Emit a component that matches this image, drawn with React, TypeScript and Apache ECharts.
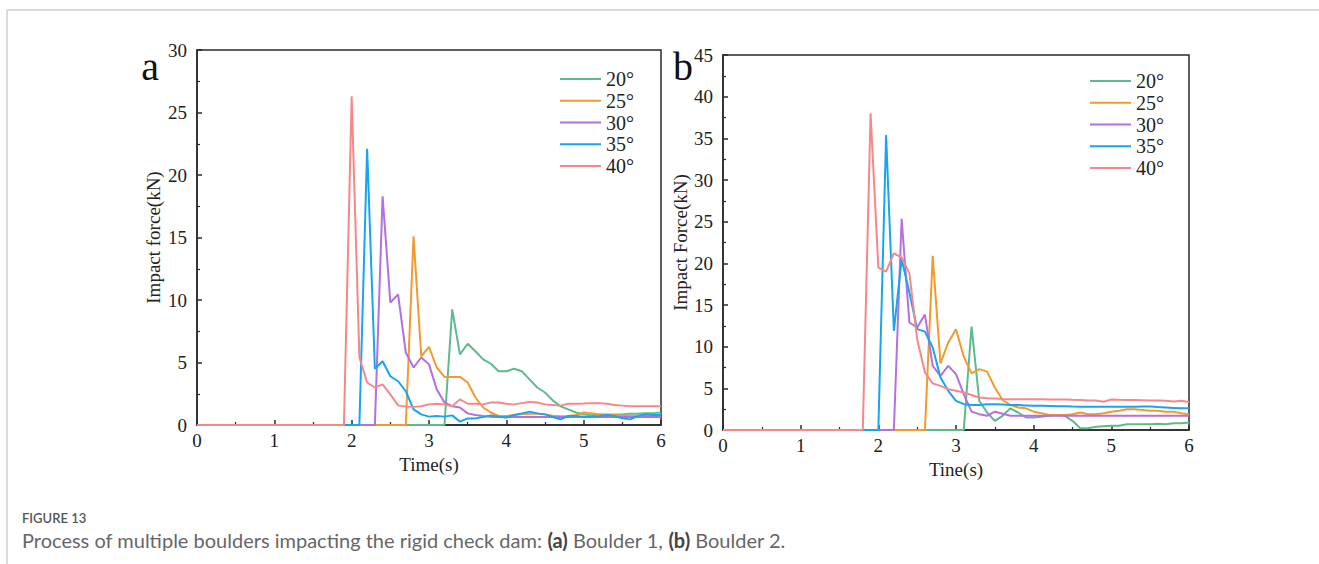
import React, { useEffect, useRef } from "react";
import * as echarts from "echarts";

const TIME = [
  0.0, 0.1, 0.2, 0.3, 0.4, 0.5, 0.6, 0.7, 0.8, 0.9,
  1.0, 1.1, 1.2, 1.3, 1.4, 1.5, 1.6, 1.7, 1.8, 1.9,
  2.0, 2.1, 2.2, 2.3, 2.4, 2.5, 2.6, 2.7, 2.8, 2.9,
  3.0, 3.1, 3.2, 3.3, 3.4, 3.5, 3.6, 3.7, 3.8, 3.9,
  4.0, 4.1, 4.2, 4.3, 4.4, 4.5, 4.6, 4.7, 4.8, 4.9,
  5.0, 5.1, 5.2, 5.3, 5.4, 5.5, 5.6, 5.7, 5.8, 5.9,
  6.0,
];

const NAMES = ["20°", "25°", "30°", "35°", "40°"];
const COLORS = ["#5dba8c", "#f29a2e", "#b46fe0", "#17a5f0", "#f58888"];

// Panel a (Boulder 1)
const A20 = [
  0, 0, 0, 0, 0, 0, 0, 0, 0, 0,
  0, 0, 0, 0, 0, 0, 0, 0, 0, 0,
  0, 0, 0, 0, 0, 0, 0, 0, 0, 0,
  0, 0, 0, 9.25, 5.65, 6.5, 5.9, 5.25, 4.9, 4.3,
  4.3, 4.5, 4.3, 3.65, 3.0, 2.6, 1.97, 1.5, 1.25, 1.0,
  0.85, 0.78, 0.85, 0.85, 0.85, 0.85, 0.9, 0.9, 0.95, 0.95,
  1.0,
];
const A25 = [
  0, 0, 0, 0, 0, 0, 0, 0, 0, 0,
  0, 0, 0, 0, 0, 0, 0, 0, 0, 0,
  0, 0, 0, 0, 0, 0, 0, 0, 15.1, 5.5,
  6.25, 4.6, 3.85, 3.85, 3.85, 3.4, 2.2, 1.4, 1.0, 0.72,
  0.72, 0.8, 0.85, 0.9, 0.9, 0.85, 0.75, 0.7, 0.72, 0.8,
  1.0, 0.95, 0.85, 0.8, 0.8, 0.75, 0.75, 0.7, 0.75, 0.8,
  0.85,
];
const A30 = [
  0, 0, 0, 0, 0, 0, 0, 0, 0, 0,
  0, 0, 0, 0, 0, 0, 0, 0, 0, 0,
  0, 0, 0, 0, 18.3, 9.8, 10.45, 5.8, 4.6, 5.4,
  4.85, 2.85, 1.8, 1.5, 1.4, 0.93, 0.8, 0.72, 0.65, 0.65,
  0.62, 0.65, 0.65, 0.65, 0.65, 0.65, 0.65, 0.65, 0.65, 0.65,
  0.65, 0.65, 0.65, 0.65, 0.65, 0.65, 0.65, 0.65, 0.65, 0.65,
  0.65,
];
const A35 = [
  0, 0, 0, 0, 0, 0, 0, 0, 0, 0,
  0, 0, 0, 0, 0, 0, 0, 0, 0, 0,
  0, 0, 22.1, 4.5, 5.1, 3.9, 3.5, 2.7, 1.25, 0.85,
  0.67, 0.72, 0.67, 0.77, 0.27, 0.53, 0.53, 0.64, 0.77, 0.67,
  0.6, 0.8, 0.93, 1.07, 0.93, 0.85, 0.64, 0.45, 0.72, 0.72,
  0.67, 0.67, 0.72, 0.8, 0.72, 0.53, 0.45, 0.72, 0.85, 0.8,
  0.8,
];
const A40 = [
  0, 0, 0, 0, 0, 0, 0, 0, 0, 0,
  0, 0, 0, 0, 0, 0, 0, 0, 0, 0,
  26.3, 5.4, 3.4, 3.0, 3.25, 2.45, 1.57, 1.47, 1.45, 1.5,
  1.65, 1.7, 1.65, 1.5, 2.05, 1.7, 1.7, 1.65, 1.8, 1.8,
  1.7, 1.65, 1.75, 1.85, 1.8, 1.65, 1.6, 1.55, 1.7, 1.7,
  1.72, 1.75, 1.75, 1.7, 1.6, 1.55, 1.5, 1.5, 1.5, 1.5,
  1.5,
];

// Panel b (Boulder 2)
const B20 = [
  0, 0, 0, 0, 0, 0, 0, 0, 0, 0,
  0, 0, 0, 0, 0, 0, 0, 0, 0, 0,
  0, 0, 0, 0, 0, 0, 0, 0, 0, 0,
  0, 0, 12.4, 3.5, 2.1, 1.1, 1.7, 2.6, 2.1, 1.5,
  1.5, 1.6, 1.7, 1.8, 1.7, 1.1, 0.2, 0.2, 0.4, 0.45,
  0.5, 0.5, 0.7, 0.7, 0.7, 0.7, 0.75, 0.7, 0.8, 0.8,
  0.9,
];
const B25 = [
  0, 0, 0, 0, 0, 0, 0, 0, 0, 0,
  0, 0, 0, 0, 0, 0, 0, 0, 0, 0,
  0, 0, 0, 0, 0, 0, 0, 20.9, 8.0, 10.5,
  12.1, 8.8, 6.8, 7.3, 7.0, 5.1, 3.6, 3.0, 2.7, 2.6,
  2.2, 2.0, 1.8, 1.8, 1.8, 1.9, 2.1, 1.9, 1.9, 2.0,
  2.2, 2.3, 2.5, 2.5, 2.4, 2.3, 2.3, 2.2, 2.2, 2.0,
  1.9,
];
const B30 = [
  0, 0, 0, 0, 0, 0, 0, 0, 0, 0,
  0, 0, 0, 0, 0, 0, 0, 0, 0, 0,
  0, 0, 0, 25.35, 12.9, 12.3, 13.85, 7.7, 6.5, 7.7,
  6.7, 4.3, 2.2, 1.9, 1.7, 2.2, 1.95, 1.7, 1.7, 1.7,
  1.7, 1.7, 1.7, 1.7, 1.7, 1.7, 1.7, 1.7, 1.7, 1.7,
  1.7, 1.7, 1.7, 1.7, 1.7, 1.7, 1.7, 1.7, 1.7, 1.7,
  1.7,
];
const B35 = [
  0, 0, 0, 0, 0, 0, 0, 0, 0, 0,
  0, 0, 0, 0, 0, 0, 0, 0, 0, 0,
  0, 35.4, 11.9, 20.5, 16.5, 12.1, 11.8, 9.9, 6.3, 4.7,
  3.5, 3.1, 3.0, 3.0, 3.1, 3.1, 3.05, 3.0, 3.0, 2.95,
  2.9, 2.9, 2.88, 2.85, 2.85, 2.82, 2.8, 2.8, 2.8, 2.8,
  2.8, 2.8, 2.8, 2.8, 2.82, 2.82, 2.75, 2.7, 2.65, 2.6,
  2.6,
];
const B40 = [
  0, 0, 0, 0, 0, 0, 0, 0, 0, 0,
  0, 0, 0, 0, 0, 0, 0, 0, 0, 38.0,
  19.5, 19.0, 21.2, 20.7, 18.8, 10.9, 6.9, 5.6, 5.3, 4.9,
  4.7, 4.5, 4.2, 3.9, 3.8, 3.77, 3.72, 3.7, 3.7, 3.7,
  3.68, 3.68, 3.66, 3.65, 3.65, 3.62, 3.6, 3.55, 3.55, 3.4,
  3.65, 3.62, 3.6, 3.6, 3.58, 3.55, 3.55, 3.5, 3.42, 3.5,
  3.35,
];

const PANEL_A = [A20, A25, A30, A35, A40];
const PANEL_B = [B20, B25, B30, B35, B40];

const X_TICKS = [0, 1, 2, 3, 4, 5, 6];

const SERIF = "Liberation Serif";
const AX = "#2a2a2a";

function makeX(gridIndex: number, name: string, nameGap: number) {
  return {
    type: "value",
    gridIndex,
    min: X_TICKS[0],
    max: X_TICKS[X_TICKS.length - 1],
    interval: 1,
    name,
    nameLocation: "middle",
    nameGap,
    nameTextStyle: { fontFamily: SERIF, fontSize: 19, color: "#222" },
    axisLine: { show: true, onZero: false, lineStyle: { color: AX, width: 1.5 } },
    axisTick: { show: true, inside: true, length: 5, lineStyle: { color: AX, width: 1.5 } },
    minorTick: { show: true, splitNumber: 2, length: 3, lineStyle: { color: AX, width: 1.2 } },
    splitLine: { show: false },
    axisLabel: { fontFamily: SERIF, fontSize: 19, color: "#222", margin: 6 },
  };
}

function makeY(gridIndex: number, max: number, name: string, nameGap: number) {
  return {
    type: "value",
    gridIndex,
    min: 0,
    max,
    interval: 5,
    name,
    nameLocation: "middle",
    nameGap,
    nameTextStyle: { fontFamily: SERIF, fontSize: 19, color: "#222" },
    axisLine: { show: true, onZero: false, lineStyle: { color: AX, width: 1.5 } },
    axisTick: { show: true, inside: true, length: 5, lineStyle: { color: AX, width: 1.5 } },
    minorTick: { show: true, splitNumber: 2, length: 3, lineStyle: { color: AX, width: 1.2 } },
    splitLine: { show: false },
    axisLabel: { fontFamily: SERIF, fontSize: 19, color: "#222", margin: 10 },
  };
}

function makeSeries(panel: number[][], idx: number) {
  return panel.map((vals, i) => ({
    name: NAMES[i],
    type: "line",
    xAxisIndex: idx,
    yAxisIndex: idx,
    symbol: "none",
    color: COLORS[i],
    lineStyle: { width: 2, color: COLORS[i] },
    z: 3,
    data: TIME.map((t, k) => [t, vals[k]]),
  }));
}

function makeLegend(left: number, top: number) {
  return {
    orient: "vertical",
    left,
    top,
    icon: "rect",
    itemWidth: 41,
    itemHeight: 2,
    itemGap: 1.75,
    selectedMode: false,
    data: NAMES,
    textStyle: { fontFamily: SERIF, fontSize: 20, color: "#222", lineHeight: 20 },
  };
}

export default function App() {
  const ref = useRef<HTMLDivElement>(null);
  useEffect(() => {
    if (!ref.current) return;
    const chart = echarts.init(ref.current, undefined, { renderer: "svg" });
    chart.setOption({
      animation: false,
      backgroundColor: "#ffffff",
      grid: [
        { left: 197, right: 658, top: 50, bottom: 139, show: true, borderColor: AX, borderWidth: 1.5, backgroundColor: "transparent" },
        { left: 723, right: 130, top: 55, bottom: 134, show: true, borderColor: AX, borderWidth: 1.5, backgroundColor: "transparent" },
      ],
      xAxis: [makeX(0, "Time(s)", 28), makeX(1, "Tine(s)", 28)],
      yAxis: [makeY(0, 30, "Impact force(kN)", 34), makeY(1, 45, "Impact Force(kN)", 32)],
      legend: [makeLegend(555, 64), makeLegend(1085, 66)],
      series: [...makeSeries(PANEL_A, 0), ...makeSeries(PANEL_B, 1)],
      graphic: [
        { type: "line", shape: { x1: 7, y1: 10, x2: 1319, y2: 10 }, style: { stroke: "#cfcfcf", lineWidth: 1.5 } },
        { type: "line", shape: { x1: 7, y1: 10, x2: 7, y2: 564 }, style: { stroke: "#cfcfcf", lineWidth: 1.5 } },
        { type: "text", x: 150, y: 66, style: { text: "a", font: `40px "${SERIF}"`, fill: "#111", align: "center", verticalAlign: "middle" } },
        { type: "text", x: 683, y: 66, style: { text: "b", font: `40px "${SERIF}"`, fill: "#111", align: "center", verticalAlign: "middle" } },
        { type: "text", x: 22, y: 518, style: { text: "FIGURE 13", font: `600 13px "Lato"`, fill: "#555", verticalAlign: "middle" } },
        {
          type: "text",
          x: 22,
          y: 540,
          style: {
            text: "Process of multiple boulders impacting the rigid check dam: {b|(a)} Boulder 1, {b|(b)} Boulder 2.",
            font: `20px "Lato"`,
            fill: "#666",
            verticalAlign: "middle",
            rich: { b: { font: `bold 20px "Lato"`, fill: "#444" } },
          },
        },
      ],
    });
    return () => chart.dispose();
  }, []);
  return (
    <div
      ref={ref}
      style={{ position: "fixed", left: 0, top: 0, width: 1319, height: 564, background: "#fff" }}
    />
  );
}
